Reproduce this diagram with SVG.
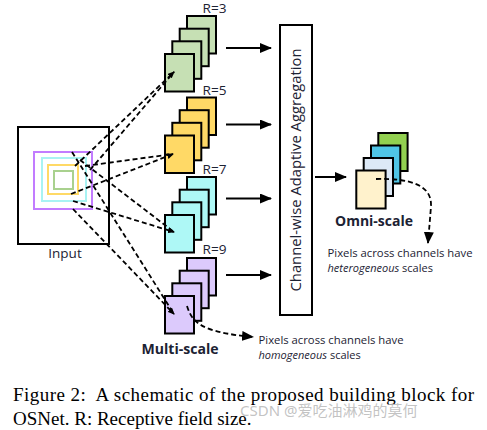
<svg xmlns="http://www.w3.org/2000/svg" width="487" height="430" viewBox="0 0 487 430">
<defs>
<marker id="ah" markerUnits="userSpaceOnUse" markerWidth="12" markerHeight="10" refX="11" refY="5" orient="auto"><path d="M0,0 L12,5 L0,10 z" fill="#000"/></marker>
<marker id="sm" markerUnits="userSpaceOnUse" markerWidth="7" markerHeight="6" refX="6" refY="3" orient="auto"><path d="M0,0 L7,3 L0,6 z" fill="#000"/></marker>
<style>
.fm{stroke:#000;stroke-width:2}
.g{fill:#c6e0b4}.y{fill:#ffd966}.c{fill:#aef8f6}.p{fill:#dccafc}
.lbl{font-family:"Open Sans",Lato,sans-serif;fill:#1c2233}
.dash{fill:none;stroke:#000;stroke-width:1.8;stroke-dasharray:5,3}
.arr{stroke:#000;stroke-width:2;marker-end:url(#ah)}
.note{font-family:"Open Sans",Lato,sans-serif;font-size:11px;fill:#1c2233}
.cap{font-family:"Liberation Serif","Times New Roman",serif;font-size:19px;fill:#000}
</style>
</defs>
<rect width="487" height="430" fill="#fff"/>

<g id="input">
<rect x="18" y="127" width="91" height="117" fill="#fff" stroke="#000" stroke-width="2"/>
<rect x="34" y="152" width="58" height="57" fill="none" stroke="#c27cff" stroke-width="2"/>
<rect x="42" y="158" width="44" height="43" fill="none" stroke="#a8f3f3" stroke-width="2"/>
<rect x="48" y="165" width="30" height="29" fill="none" stroke="#ffd966" stroke-width="2"/>
<rect x="54" y="171" width="19" height="18" fill="none" stroke="#a9d18e" stroke-width="2"/>
<text class="lbl" x="65" y="258" font-size="13.5" text-anchor="middle">Input</text>
</g>

<g id="r3">
<rect class="fm g" x="187" y="16" width="29" height="37.5"/>
<rect class="fm g" x="179.7" y="28.7" width="29" height="37.5"/>
<rect class="fm g" x="172.3" y="41.3" width="29" height="37.5"/>
<rect class="fm g" x="165" y="54" width="29" height="37.5"/>
<text class="lbl" x="202.5" y="13" font-size="13.5" textLength="24" lengthAdjust="spacingAndGlyphs">R=3</text>
</g>
<g id="r5">
<rect class="fm y" x="187" y="97.5" width="29" height="37.5"/>
<rect class="fm y" x="179.7" y="110.2" width="29" height="37.5"/>
<rect class="fm y" x="172.3" y="122.8" width="29" height="37.5"/>
<rect class="fm y" x="165" y="135.5" width="29" height="37.5"/>
<text class="lbl" x="202.5" y="95" font-size="13.5" textLength="24" lengthAdjust="spacingAndGlyphs">R=5</text>
</g>
<g id="r7">
<rect class="fm c" x="187" y="177" width="29" height="37.5"/>
<rect class="fm c" x="179.7" y="189.7" width="29" height="37.5"/>
<rect class="fm c" x="172.3" y="202.3" width="29" height="37.5"/>
<rect class="fm c" x="165" y="215" width="29" height="37.5"/>
<text class="lbl" x="202.5" y="173.5" font-size="13.5" textLength="24" lengthAdjust="spacingAndGlyphs">R=7</text>
</g>
<g id="r9">
<rect class="fm p" x="187" y="258" width="29" height="37.5"/>
<rect class="fm p" x="179.7" y="270.7" width="29" height="37.5"/>
<rect class="fm p" x="172.3" y="283.3" width="29" height="37.5"/>
<rect class="fm p" x="165" y="296" width="29" height="37.5"/>
<text class="lbl" x="202.5" y="253.5" font-size="13.5" textLength="24" lengthAdjust="spacingAndGlyphs">R=9</text>
<text class="lbl" x="141.5" y="353.5" font-size="14.5" font-weight="bold" textLength="77" lengthAdjust="spacingAndGlyphs">Multi-scale</text>
</g>

<g id="aggregation">
<rect x="280" y="25" width="32" height="290" fill="#fff" stroke="#000" stroke-width="2"/>
<text class="lbl" transform="translate(301,170) rotate(-90)" font-size="14" text-anchor="middle" textLength="243" lengthAdjust="spacingAndGlyphs">Channel-wise Adaptive Aggregation</text>
</g>

<g id="omni">
<rect class="fm" x="378.3" y="133" width="29.3" height="38" fill="#92d050"/>
<rect class="fm" x="371" y="145.5" width="29.3" height="38" fill="#4fc5e6"/>
<rect class="fm" x="363.7" y="158" width="29.3" height="38" fill="#dde9f6"/>
<rect class="fm" x="356.3" y="170.5" width="29.3" height="38" fill="#fff2cc"/>
<text class="lbl" x="335" y="225.5" font-size="14.5" font-weight="bold" textLength="78" lengthAdjust="spacingAndGlyphs">Omni-scale</text>
</g>

<g id="notes">
<text class="note" x="327.5" y="256.5" textLength="145" lengthAdjust="spacingAndGlyphs">Pixels across channels have</text>
<text class="note" x="327.5" y="271.5"><tspan font-style="italic">heterogeneous</tspan> scales</text>
<text class="note" x="258.5" y="344" textLength="145" lengthAdjust="spacingAndGlyphs">Pixels across channels have</text>
<text class="note" x="258.5" y="358.5"><tspan font-style="italic">homogeneous</tspan> scales</text>
</g>

<g id="connectors">
<line class="arr" x1="226" y1="48" x2="271" y2="48"/>
<line class="arr" x1="226" y1="124.5" x2="271" y2="124.5"/>
<line class="arr" x1="226" y1="198.5" x2="271" y2="198.5"/>
<line class="arr" x1="226" y1="275" x2="271" y2="275"/>
<line class="arr" x1="315" y1="177" x2="346" y2="177"/>
<path class="dash" d="M75,166 L174,72" marker-end="url(#sm)"/>
<path class="dash" d="M90,170 L174,72"/>
<path class="dash" d="M71,194 L173,154" marker-end="url(#sm)"/>
<path class="dash" d="M85,166 L173,154"/>
<path class="dash" d="M73,201 L174,232" marker-end="url(#sm)"/>
<path class="dash" d="M80,160 L174,232"/>
<path class="dash" d="M73,209 L174,314" marker-end="url(#sm)"/>
<path class="dash" d="M72,152 L174,314"/>
<path class="dash" d="M376,179 C412,178 432,186 431,206 C430,220 429,230 428,243" marker-end="url(#ah)"/>
<path class="dash" d="M187,306 C192,322 200,332 253,337" marker-end="url(#ah)"/>
</g>

<g id="caption">
<text class="cap" x="13" y="400.5" xml:space="preserve" style="white-space:pre" textLength="461" lengthAdjust="spacing">Figure 2:  A schematic of the proposed building block for</text>
<text class="cap" x="13" y="424.5">OSNet. R: Receptive field size.</text>
<text x="240" y="416" font-family="'Noto Sans','Noto Sans CJK SC',sans-serif" font-size="15" fill="#b8b8b8" fill-opacity="0.85">CSDN @爱吃油淋鸡的莫何</text>
</g>
</svg>
